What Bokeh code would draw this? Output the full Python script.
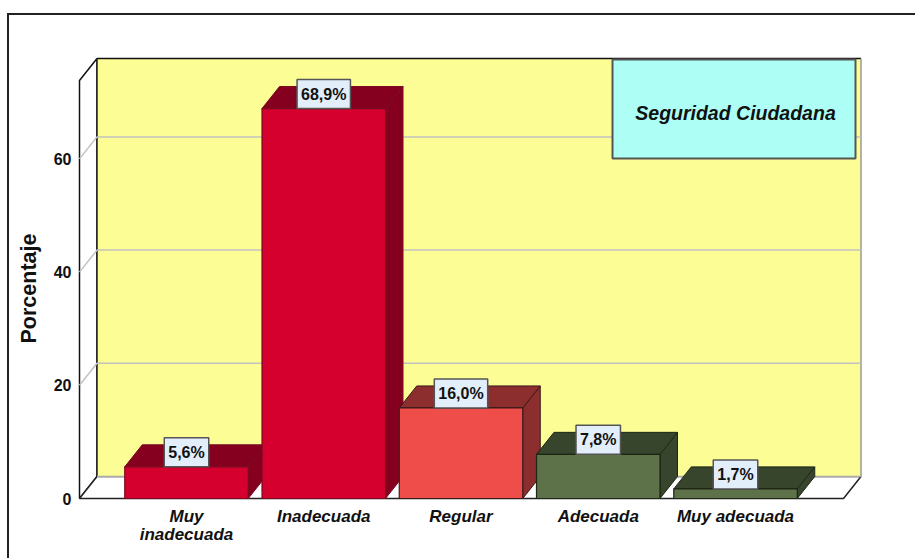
from bokeh.plotting import figure
from bokeh.models import Range1d, FixedTicker, Title
from bokeh.core.properties import value
from bokeh.embed import file_html
from bokeh.resources import INLINE

categories = ["Muy\ninadecuada", "Inadecuada", "Regular", "Adecuada", "Muy adecuada"]
percentages = [5.6, 68.9, 16.0, 7.8, 1.7]
point_labels = ["5,6%", "68,9%", "16,0%", "7,8%", "1,7%"]
front_colors = ["#D5002E", "#D5002E", "#EE4D4A", "#5D7248", "#5D7248"]
shade_colors = ["#85001F", "#85001F", "#8C2E2E", "#37452C", "#37452C"]
edge_colors = ["#7A0A20", "#7A0A20", "#3A1A1A", "#1E2616", "#1E2616"]
y_ticks = [0, 20, 40, 60]
y_tick_labels = {0: "0", 20: "20", 40: "40", 60: "60"}
inset_title = "Seguridad Ciudadana"

# page-pixel calibration
OX, OY, BW = 7, 13, 2                 # figure origin on the photographed page, border width
FL, FR, FT, FB = 75, 865, 55, 502     # plot frame on the page
X0, XS = 186.0, 137.25                # page x of category 0, px per category
Y0, YS = 498.0, 5.66                  # page y of value 0, px per percent
DX, DY = 17.5 / XS, 22.0 / YS         # 3-D depth in data units
BAR = 123.5 / XS
XMIN, XMAX = (79 - X0) / XS, (843 - X0) / XS
YTOP = (Y0 - 80) / YS

def X(px):
    return (px - X0) / XS

def Y(py):
    return (Y0 - py) / YS

p = figure(width=917 - OX - BW, height=560 - OY - BW, output_backend="svg", toolbar_location=None,
           x_range=Range1d(X(FL), X(FR)), y_range=Range1d(Y(FB), Y(FT)),
           min_border_left=FL - OX - BW, min_border_right=917 - FR,
           min_border_top=FT - OY - BW, min_border_bottom=560 - FB,
           outline_line_color=None, background_fill_color="white",
           margin=(OY, 0, 0, OX),
           styles={"border-top": "2px solid #222222", "border-left": "2px solid #222222"})
p.grid.visible = False

# y axis (front edge)
ya = p.yaxis[0]
ya.ticker = FixedTicker(ticks=y_ticks)
ya.major_label_overrides = y_tick_labels
ya.axis_line_color = None
ya.major_tick_line_color = None
ya.minor_tick_line_color = None
ya.major_tick_out = 0
ya.minor_tick_out = 0
ya.major_label_standoff = 4
ya.major_label_text_font = "Liberation Sans"
ya.major_label_text_font_style = "bold"
ya.major_label_text_font_size = "16px"
ya.major_label_text_color = "#111111"

# x axis
xa = p.xaxis[0]
xa.ticker = FixedTicker(ticks=list(range(len(categories))))
xa.major_label_overrides = {i: c for i, c in enumerate(categories)}
xa.axis_line_color = None
xa.major_tick_line_color = None
xa.minor_tick_line_color = None
xa.major_tick_out = 0
xa.minor_tick_out = 0
xa.major_label_standoff = 4
xa.major_label_text_font = "Liberation Sans"
xa.major_label_text_font_style = "bold italic"
xa.major_label_text_font_size = "17px"
xa.major_label_text_line_height = 0.95
xa.major_label_text_color = "#111111"

# axis title
p.add_layout(Title(text="Porcentaje", align="left", offset=159, standoff=15, vertical_align="top",
                   text_font="Liberation Sans", text_font_style="bold",
                   text_font_size="21.5px", text_color="#111111"), "left")

# left wall, floor, back wall
p.patch([XMIN, XMIN + DX, XMIN + DX, XMIN], [0, DY, YTOP + DY, YTOP],
        fill_color="white", line_color="#111111", line_width=1.5)
p.patch([XMIN, XMAX, XMAX + DX, XMIN + DX], [0, 0, DY, DY],
        fill_color="white", line_color="#222222", line_width=1.5)
p.quad(left=[XMIN + DX], right=[XMAX + DX], bottom=[DY], top=[YTOP + DY],
       fill_color="#FDFD96", line_color=None)
p.line([XMIN + DX, XMIN + DX], [DY, YTOP + DY], line_color="#222222", line_width=1.5)
p.line([XMIN + DX, XMAX + DX], [YTOP + DY, YTOP + DY], line_color="#111111", line_width=1.5)
p.line([XMAX + DX, XMAX + DX], [DY, YTOP + DY], line_color="#999999", line_width=1.5)
p.line([XMIN + DX, XMAX + DX], [DY, DY], line_color="#AAAAAA", line_width=1.5)

# gridlines on back wall and left wall
for t in y_ticks[1:]:
    p.line([XMIN, XMIN + DX, XMAX + DX], [t, t + DY, t + DY], line_color="#C2C2C2", line_width=1.5)

# bars
for i, v in enumerate(percentages):
    l, r = i - BAR / 2, i + BAR / 2
    p.patch([r, r + DX, r + DX, r], [0, DY, v + DY, v],
            fill_color=shade_colors[i], line_color=edge_colors[i], line_width=1)
    p.patch([l, l + DX, r + DX, r], [v, v + DY, v + DY, v],
            fill_color=shade_colors[i], line_color=edge_colors[i], line_width=1)
    p.quad(left=[l], right=[r], bottom=[0], top=[v],
           fill_color=front_colors[i], line_color=edge_colors[i], line_width=1.2)

# value labels
for i, v in enumerate(percentages):
    p.text(x=[i], y=[v], text=[point_labels[i]], text_align="center", text_baseline="bottom",
           text_font=value("Liberation Sans"), text_font_style="bold", text_font_size="16px",
           text_color="#111111", background_fill_color="#E3EEFB", border_line_color="#555555",
           border_line_width=1.5, padding=(4, 6))

# inset title box
p.quad(left=[X(612)], right=[X(855)], bottom=[Y(158)], top=[Y(59)],
       fill_color="#ADFFF6", line_color="#555555", line_width=2)
p.text(x=[X(735)], y=[Y(112.5)], text=[inset_title], text_align="center", text_baseline="middle",
       text_font=value("Liberation Sans"), text_font_style="bold italic", text_font_size="19.5px",
       text_color="#111111")

open("out.html", "w").write(file_html(p, INLINE))
